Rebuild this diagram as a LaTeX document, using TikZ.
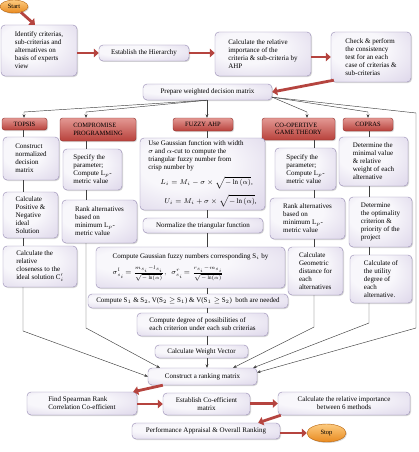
\documentclass[tikz,border=0pt]{standalone}
\usepackage{fontspec}
\setmainfont{Liberation Serif}
\usetikzlibrary{arrows.meta,shapes.geometric,shadows,calc}
\definecolor{boxin}{HTML}{F8F7FB}
\definecolor{boxmid}{HTML}{D4CBE4}
\definecolor{boxout}{HTML}{A496C2}
\definecolor{boxborder}{HTML}{968AB3}
\definecolor{hdrtop}{HTML}{E39893}
\definecolor{hdrbot}{HTML}{B8413B}
\definecolor{hdrborder}{HTML}{8C2E2A}
\definecolor{termtop}{HTML}{FCCB80}
\definecolor{termbot}{HTML}{E98A1F}
\definecolor{termborder}{HTML}{B9650F}
\definecolor{redarr}{HTML}{B5443F}
\pgfdeclareradialshading{lavshade}{\pgfpoint{-10bp}{10bp}}{color(0bp)=(boxin); color(18bp)=(boxin); color(50bp)=(boxmid); color(72bp)=(boxout)}
\begin{document}
\begin{tikzpicture}[x=1pt,y=-1pt]
\tikzset{
  box/.style={draw=boxborder, line width=0.4pt, rounded corners=4pt, shade, shading=lavshade,
    drop shadow={opacity=0.3,shadow xshift=1pt,shadow yshift=-1pt},
    font=\fontsize{7}{8}\selectfont, align=left, inner xsep=3pt, inner ysep=1pt},
  hdr/.style={draw=hdrborder, line width=0.4pt, rounded corners=2.5pt, top color=hdrtop, bottom color=hdrbot,
    drop shadow={opacity=0.3,shadow xshift=1pt,shadow yshift=-1pt},
    font=\fontsize{6.5}{7.5}\selectfont, align=left, inner sep=2pt},
  term/.style={ellipse, draw=termborder, line width=0.4pt, top color=termtop, bottom color=termbot,
    drop shadow={opacity=0.3,shadow xshift=1pt,shadow yshift=-1pt},
    font=\fontsize{6.5}{7.5}\selectfont, inner sep=1pt},
  rarr/.style={draw=redarr, line width=2.8pt, -{Triangle[length=5pt,width=8.5pt]}},
  conn/.style={draw=black!75, line width=0.45pt},
  carr/.style={conn, -{Stealth[length=3.5pt,width=3pt]}},
}
\fill[white] (0,0) rectangle (419,452);
\useasboundingbox (0,0) rectangle (419,452);

% top row
\node[term, minimum width=28pt, minimum height=13pt] (start) at (14,6.5) {Start};
\node[box, minimum width=76pt, minimum height=51pt] (ident) at (39,50.5) {Identify criterias,\\ sub-criterias and\\ alternatives on\\ basis of experts\\ view};
\node[box, minimum width=90pt, minimum height=16pt, align=center] (estab) at (144,53) {Establish the Hierarchy};
\node[box, minimum width=96pt, minimum height=44pt] (calcahp) at (263,54) {Calculate the relative\\ importance of the\\ criteria \& sub-criteria by\\ AHP};
\node[box, minimum width=80pt, minimum height=50pt] (check) at (371,57) {Check \& perform\\ the consistency\\ test for an each\\ case of criterias \&\\ sub-criterias};
\node[box, minimum width=129pt, minimum height=16pt] (prep) at (207.5,92) {Prepare weighted decision matrix};

% headers
\node[hdr, minimum width=45pt, minimum height=12pt, align=center] (htop) at (24.5,124) {TOPSIS};
\node[hdr, minimum width=76pt, minimum height=23pt] (hcomp) at (98,129.5) {COMPROMISE\\ PROGRAMMING};
\node[hdr, minimum width=60pt, minimum height=13pt, align=center] (hfuz) at (203,124.5) {FUZZY AHP};
\node[hdr, minimum width=73pt, minimum height=22pt] (hcoop) at (298.5,129) {CO-OPERTIVE\\ GAME THEORY};
\node[hdr, minimum width=50pt, minimum height=13pt, align=center] (hcop) at (368,124.5) {COPRAS};

% TOPSIS column
\node[box, minimum width=56pt, minimum height=43pt] (t1) at (31,158.5) {Construct\\ normalized\\ decision\\ matrix};
\node[box, minimum width=55pt, minimum height=46pt] (t2) at (30.5,215) {Calculate\\ Positive \&\\ Negative\\ ideal\\ Solution};
\node[box, minimum width=74pt, minimum height=41pt] (t3) at (40,266.5) {Calculate the\\ relative\\ closeness to the\\ ideal solution C$_i'$};

% Compromise column
\node[box, minimum width=59pt, minimum height=41pt] (c1) at (92.5,169.5) {Specify the\\ parameter;\\ Compute L$_p$-\\ metric value};
\node[box, minimum width=75pt, minimum height=43pt] (c2) at (99.5,221.5) {Rank alternatives\\ based on\\ minimum L$_p$-\\ metric value};

% Fuzzy AHP column
\node[box, minimum width=125pt, minimum height=72pt] (f1) at (202.5,174) {Use Gaussian function with width\\ $\sigma$ and $\alpha$-cut to compute the\\ triangular fuzzy number from\\ crisp number by\\[4pt]
\hspace*{12pt}$L_i = M_i - \sigma \times \sqrt{-\ln{(\alpha)}}$,\\[5pt]
\hspace*{16pt}$U_i = M_i + \sigma \times \sqrt{-\ln{(\alpha)}}$,};
\node[box, minimum width=120pt, minimum height=15pt, align=center] (f2) at (203,225.5) {Normalize the triangular function};
\node[box, minimum width=189pt, minimum height=41pt] (f3) at (190.5,267.5) {Compute Gaussian fuzzy numbers corresponding S$_i$ by\\[5pt]
$\sigma^{l}_{s_i}\! = \frac{m_{s_i}-l_{s_i}}{\sqrt{-\ln(\alpha)}},\ \ \sigma^{r}_{s_i}\! = \frac{r_{s_i}-m_{s_i}}{\sqrt{-\ln(\alpha)}}$};
\node[box, minimum width=200pt, minimum height=14pt] (f4) at (188,301) {Compute S$_1$ \& S$_2$, V(S$_2\geq$ S$_1$) \& V(S$_1\geq$ S$_2$)\ \ both are needed};
\node[box, minimum width=131pt, minimum height=23pt] (f5) at (202.5,324.5) {Compute degree of possibilities of\\ each criterion under each sub criterias};
\node[box, minimum width=93pt, minimum height=13pt, align=center] (f6) at (201.5,351.5) {Calculate Weight Vector};
\node[box, minimum width=109pt, minimum height=17pt, align=center] (rank) at (202.5,376.5) {Construct a ranking matrix};

% Co-operative column
\node[box, minimum width=61pt, minimum height=42pt] (o1) at (305.5,169) {Specify the\\ parameter;\\ Compute L$_p$-\\ metric value};
\node[box, minimum width=75pt, minimum height=41pt] (o2) at (307.5,218.5) {Rank alternatives\\ based on\\ minimum L$_p$-\\ metric value};
\node[box, minimum width=55pt, minimum height=48pt] (o3) at (315.5,271) {Calculate\\ Geometric\\ distance for\\ each\\ alternatives};

% COPRAS column
\node[box, minimum width=69pt, minimum height=49pt] (p1) at (373.5,161.5) {Determine the\\ minimal value\\ \& relative\\ weight of each\\ alternative};
\node[box, minimum width=63pt, minimum height=50pt] (p2) at (380.5,222) {Determine\\ the optimality\\ criterion \&\\ priority of the\\ project};
\node[box, minimum width=62pt, minimum height=48pt] (p3) at (381,279) {Calculate of\\ the utility\\ degree of\\ each\\ alternative.};

% bottom
\node[box, minimum width=110pt, minimum height=23pt] (spear) at (82,403.5) {Find Spearman Rank\\ Correlation Co-efficient};
\node[box, minimum width=87pt, minimum height=22pt, align=center] (coef) at (206.5,404) {Establish Co-efficient\\ matrix};
\node[box, minimum width=132pt, minimum height=23pt, align=center] (relimp) at (344,403.5) {Calculate the relative importance\\ between 6 methods};
\node[box, minimum width=148pt, minimum height=16pt, align=center] (perf) at (206,431) {Performance Appraisal \& Overall Ranking};
\node[term, minimum width=39pt, minimum height=18pt] (stop) at (326.5,433) {Stop};

% red arrows
\draw[rarr] (start.-40) -- ([xshift=-4pt]ident.north);
\draw[rarr] (ident.east |- estab.west) -- (estab.west);
\draw[rarr] (estab.east) -- (calcahp.west |- estab.east);
\draw[rarr] (calcahp.east |- check.west) -- (check.west);
\draw[rarr] ([xshift=3pt,yshift=2pt]check.south west) -- (prep.east);
\draw[rarr] ([xshift=15pt]rank.south west) -- ([xshift=-4pt]spear.north east);
\draw[rarr] (spear.east |- coef.west) -- (coef.west);
\draw[rarr] (coef.east |- relimp.west) -- (relimp.west);
\draw[rarr] ([xshift=3pt]relimp.south west) -- ([xshift=-22pt]perf.north east);
\draw[rarr] (perf.east |- stop.west) -- (stop.west);

% coordinates for connectors
\coordinate (tb) at (23,331);
\coordinate (cb) at (86,328);
\coordinate (fb) at (207,0);
\coordinate (ob) at (314,327);
\coordinate (pb) at (369,323);
\coordinate (ft) at (24,112);
\coordinate (fc) at (86,112);
\coordinate (fo) at (307,112);
\coordinate (fp) at (368,112);
\coordinate (rt) at (416,113);
\coordinate (rb) at (416,328);

% fan from prepare
\draw[carr] (prep.south -| fb) -- (hfuz.north -| fb);
\draw[carr] (prep.south -| fb) -- (ft) -- (ft |- htop.north);
\draw[carr] (prep.south -| fb) -- (fc) -- (fc |- hcomp.north);
\draw[carr] ([yshift=3pt]prep.south east) -- (fo) -- (fo |- hcoop.north);
\draw[carr] ([yshift=3pt]prep.south east) -- (fp) -- (fp |- hcop.north);
\draw[carr] ([yshift=3pt]prep.south east) -- (rt) -- (rb) -- ([yshift=4pt]rank.east);

% TOPSIS column lines
\draw[conn] (htop.south -| tb) -- (t1.north -| tb);
\draw[conn] (t1.south -| tb) -- (t2.north -| tb);
\draw[conn] (t2.south -| tb) -- (t3.north -| tb);
\draw[carr] (t3.south -| tb) -- (tb) -- (rank.west);

% Compromise
\draw[conn] (hcomp.south -| cb) -- (c1.north -| cb);
\draw[conn] (c1.south -| cb) -- (c2.north -| cb);
\draw[carr] (c2.south -| cb) -- (cb) -- ([xshift=12pt]rank.north west);

% Fuzzy
\draw[conn] (hfuz.south -| fb) -- (f1.north -| fb);
\draw[conn] (f1.south -| fb) -- (f2.north -| fb);
\draw[conn] (f2.south -| fb) -- (f3.north -| fb);
\draw[conn] (f3.south -| fb) -- (f4.north -| fb);
\draw[conn] (f4.south -| fb) -- (f5.north -| fb);
\draw[conn] (f5.south -| fb) -- (f6.north -| fb);
\draw[carr] (f6.south -| fb) -- (rank.north -| fb);

% Co-operative
\draw[conn] (hcoop.south -| ob) -- (o1.north -| ob);
\draw[conn] (o1.south -| ob) -- (o2.north -| ob);
\draw[conn] (o2.south -| ob) -- (o3.north -| ob);
\draw[carr] (o3.south -| ob) -- (ob) -- ([xshift=-24pt]rank.north east);

% COPRAS
\draw[conn] (hcop.south -| pb) -- (p1.north -| pb);
\draw[conn] (p1.south -| pb) -- (p2.north -| pb);
\draw[conn] (p2.south -| pb) -- (p3.north -| pb);
\draw[carr] (p3.south -| pb) -- (pb) -- ([xshift=-4pt]rank.north east);
\end{tikzpicture}
\end{document}
